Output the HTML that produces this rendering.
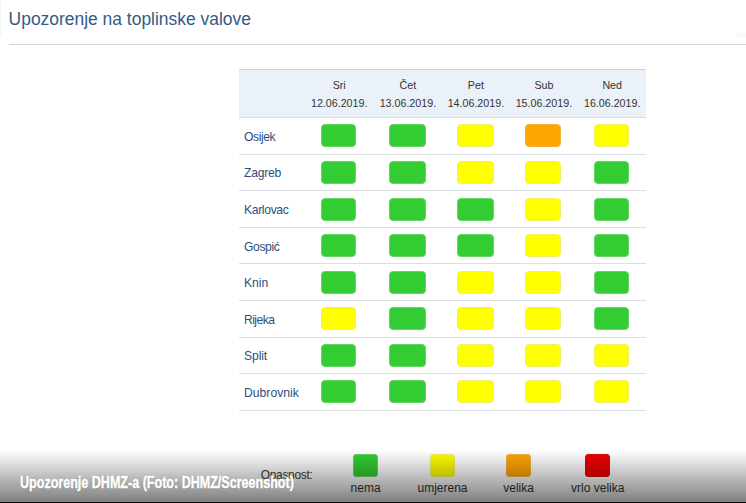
<!DOCTYPE html>
<html lang="hr">
<head>
<meta charset="utf-8">
<title>Upozorenje na toplinske valove</title>
<style>
html,body{margin:0;padding:0;}
body{width:746px;height:503px;position:relative;overflow:hidden;background:#fff;
 font-family:"Liberation Sans",sans-serif;color:#333;}
.abs{position:absolute;white-space:nowrap;}
h1{position:absolute;margin:0;left:8.6px;top:8.1px;font-weight:normal;font-size:17.45px;line-height:22px;color:#335b85;white-space:nowrap;}
.rule{position:absolute;left:8.5px;right:0;top:44px;height:1px;background:#d3d6d9;}
.fx1{position:absolute;left:0;top:0;width:1px;height:36px;background:#f1f5fa;}
.fx2{position:absolute;left:736px;top:32px;width:10px;height:6px;background:#fafafa;}
.thead{position:absolute;left:239px;top:69px;width:407px;height:48px;background:#eaf1f9;border-top:1px solid #cdd2d8;box-sizing:border-box;}
.hl{position:absolute;left:239px;width:407px;height:1.1px;background:#dadde2;}
.day{position:absolute;width:68px;text-align:center;font-size:10.7px;line-height:18px;color:#333;white-space:nowrap;}
.city{position:absolute;left:244px;font-size:12.15px;line-height:16px;color:#2c4f7c;white-space:nowrap;}
.b{position:absolute;height:23.1px;border-radius:4px;box-sizing:border-box;}
.g{background:#33cc33;border:1px solid #62d662;}
.y{background:#ffff00;border:1px solid #f0f068;}
.o{background:#ffa500;border:1px solid #f6b040;}
.r{background:#ee0000;border:1px solid #d01010;}
.lb{position:absolute;width:25px;height:23.6px;top:453.5px;border-radius:3px;box-sizing:border-box;}
.lt{position:absolute;top:479.8px;width:100px;text-align:center;font-size:12px;line-height:16px;color:#333;white-space:nowrap;}
.shade{position:absolute;left:0;top:450px;width:746px;height:51.5px;background:linear-gradient(to bottom,rgba(0,0,0,0) 0%,rgba(0,0,0,0.5) 100%);}
.strip{position:absolute;left:0;top:501.5px;width:746px;height:1.5px;background:#0a0a0a;}
.cap{position:absolute;left:19.5px;top:472.6px;font-weight:bold;font-size:15.8px;line-height:20px;color:#fff;white-space:nowrap;
 transform-origin:0 50%;transform:scaleX(0.794);-webkit-text-stroke:0.5px #fff;text-shadow:0 0 2px rgba(0,0,0,0.3);}
</style>
</head>
<body>
<h1>Upozorenje na toplinske valove</h1>
<div class="rule"></div>
<div class="fx1"></div>
<div class="fx2"></div>
<div class="thead"></div>
<div class="day" style="left:305.2px;top:75.6px">Sri<br>12.06.2019.</div>
<div class="day" style="left:373.9px;top:75.6px">Čet<br>13.06.2019.</div>
<div class="day" style="left:441.9px;top:75.6px">Pet<br>14.06.2019.</div>
<div class="day" style="left:509.9px;top:75.6px">Sub<br>15.06.2019.</div>
<div class="day" style="left:578.2px;top:75.6px">Ned<br>16.06.2019.</div>
<div class="hl" style="top:116.9px"></div>
<div class="hl" style="top:153.6px"></div>
<div class="hl" style="top:190.1px"></div>
<div class="hl" style="top:226.9px"></div>
<div class="hl" style="top:263.3px"></div>
<div class="hl" style="top:299.8px"></div>
<div class="hl" style="top:336.5px"></div>
<div class="hl" style="top:373.1px"></div>
<div class="hl" style="top:409.5px"></div>
<div class="city" style="top:128.8px;letter-spacing:-0.440px">Osijek</div>
<div class="b g" style="left:321.1px;width:35.1px;top:124.2px"></div>
<div class="b g" style="left:389.3px;width:36.3px;top:124.2px"></div>
<div class="b y" style="left:457.2px;width:36.4px;top:124.2px"></div>
<div class="b o" style="left:525.4px;width:36.0px;top:124.2px"></div>
<div class="b y" style="left:593.9px;width:35.6px;top:124.2px"></div>
<div class="city" style="top:165.4px;letter-spacing:-0.220px">Zagreb</div>
<div class="b g" style="left:321.1px;width:35.1px;top:160.8px"></div>
<div class="b g" style="left:389.3px;width:36.3px;top:160.8px"></div>
<div class="b y" style="left:457.2px;width:36.4px;top:160.8px"></div>
<div class="b y" style="left:525.4px;width:36.0px;top:160.8px"></div>
<div class="b g" style="left:593.9px;width:35.6px;top:160.8px"></div>
<div class="city" style="top:202.1px;letter-spacing:-0.340px">Karlovac</div>
<div class="b g" style="left:321.1px;width:35.1px;top:197.5px"></div>
<div class="b g" style="left:389.3px;width:36.3px;top:197.5px"></div>
<div class="b g" style="left:457.2px;width:36.4px;top:197.5px"></div>
<div class="b y" style="left:525.4px;width:36.0px;top:197.5px"></div>
<div class="b g" style="left:593.9px;width:35.6px;top:197.5px"></div>
<div class="city" style="top:238.7px;letter-spacing:-0.400px">Gospić</div>
<div class="b g" style="left:321.1px;width:35.1px;top:234.1px"></div>
<div class="b g" style="left:389.3px;width:36.3px;top:234.1px"></div>
<div class="b g" style="left:457.2px;width:36.4px;top:234.1px"></div>
<div class="b y" style="left:525.4px;width:36.0px;top:234.1px"></div>
<div class="b g" style="left:593.9px;width:35.6px;top:234.1px"></div>
<div class="city" style="top:275.2px;letter-spacing:0.000px">Knin</div>
<div class="b g" style="left:321.1px;width:35.1px;top:270.6px"></div>
<div class="b g" style="left:389.3px;width:36.3px;top:270.6px"></div>
<div class="b y" style="left:457.2px;width:36.4px;top:270.6px"></div>
<div class="b y" style="left:525.4px;width:36.0px;top:270.6px"></div>
<div class="b g" style="left:593.9px;width:35.6px;top:270.6px"></div>
<div class="city" style="top:311.8px;letter-spacing:-0.550px">Rijeka</div>
<div class="b y" style="left:321.1px;width:35.1px;top:307.1px"></div>
<div class="b g" style="left:389.3px;width:36.3px;top:307.1px"></div>
<div class="b y" style="left:457.2px;width:36.4px;top:307.1px"></div>
<div class="b y" style="left:525.4px;width:36.0px;top:307.1px"></div>
<div class="b g" style="left:593.9px;width:35.6px;top:307.1px"></div>
<div class="city" style="top:348.4px;letter-spacing:-0.100px">Split</div>
<div class="b g" style="left:321.1px;width:35.1px;top:343.8px"></div>
<div class="b g" style="left:389.3px;width:36.3px;top:343.8px"></div>
<div class="b y" style="left:457.2px;width:36.4px;top:343.8px"></div>
<div class="b y" style="left:525.4px;width:36.0px;top:343.8px"></div>
<div class="b y" style="left:593.9px;width:35.6px;top:343.8px"></div>
<div class="city" style="top:384.9px;letter-spacing:0.030px">Dubrovnik</div>
<div class="b g" style="left:321.1px;width:35.1px;top:380.3px"></div>
<div class="b g" style="left:389.3px;width:36.3px;top:380.3px"></div>
<div class="b y" style="left:457.2px;width:36.4px;top:380.3px"></div>
<div class="b y" style="left:525.4px;width:36.0px;top:380.3px"></div>
<div class="b y" style="left:593.9px;width:35.6px;top:380.3px"></div>
<div class="abs" style="left:260.8px;top:467.3px;font-size:11.9px;letter-spacing:-0.28px;line-height:16px;color:#3a3a3a">Opasnost:</div>
<div class="lb g" style="left:353.1px"></div>
<div class="lt" style="left:315.6px">nema</div>
<div class="lb y" style="left:430.0px"></div>
<div class="lt" style="left:392.5px">umjerena</div>
<div class="lb o" style="left:506.1px"></div>
<div class="lt" style="left:468.6px">velika</div>
<div class="lb r" style="left:585.3px"></div>
<div class="lt" style="left:547.8px">vrlo velika</div>
<div class="shade"></div>
<div class="strip"></div>
<div class="cap">Upozorenje DHMZ-a (Foto: DHMZ/Screenshot)</div>
</body>
</html>
